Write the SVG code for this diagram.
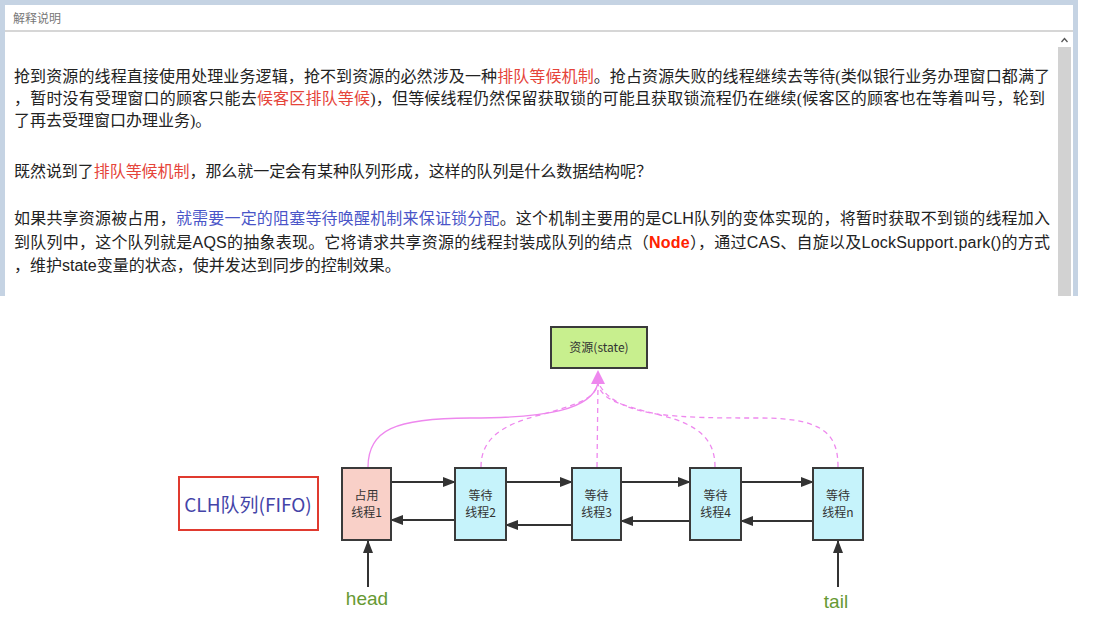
<svg xmlns="http://www.w3.org/2000/svg" width="1094" height="626" viewBox="0 0 1094 626">
<style>
.body{font-family:"Liberation Serif","Noto Sans CJK SC",serif;font-size:16px;fill:#222}
.lat{font-family:"Liberation Sans","Noto Sans CJK SC",sans-serif}
.red{fill:#e5443a}
.blue{fill:#4a55c8}
.node{stroke:#3a3a3a;stroke-width:2}
.nt{font-family:"Noto Sans CJK SC",sans-serif;font-size:12px;fill:#333;text-anchor:middle}
.conn{stroke:#333;stroke-width:2;fill:none}
.pk{stroke:#ee88ee;stroke-width:1.3;fill:none}
.pkd{stroke:#ee88ee;stroke-width:1.3;fill:none;stroke-dasharray:5 4}
.lab{font-family:"Liberation Sans",sans-serif;font-size:19px;fill:#669933;text-anchor:middle}
</style>
<defs>
<marker id="ah" markerUnits="userSpaceOnUse" markerWidth="13" markerHeight="10" refX="12" refY="5" orient="auto">
<path d="M0,0 L13,5 L0,10 z" fill="#333"/>
</marker>
</defs>
<rect width="1094" height="626" fill="#fff"/>
<g id="panel">
<rect x="0" y="0" width="1078" height="296" fill="#c5d3e3"/>
<rect x="5" y="5" width="1068" height="291" fill="#fff"/>
<line x1="5" y1="31" x2="1073" y2="31" stroke="#c8c8c8" stroke-width="1.5"/>
<text x="13" y="23" font-family="Noto Sans CJK SC,sans-serif" font-size="12" fill="#777">解释说明</text>
<rect x="1058" y="47" width="13" height="249" fill="#d2d2d2"/>
<path d="M1061.5,42 L1064.5,38.5 L1067.5,42" stroke="#555" stroke-width="1.3" fill="none"/>
</g>
<g id="text">
<text class="body" x="14" y="82" textLength="1036" lengthAdjust="spacing">抢到资源的线程直接使用处理业务逻辑，抢不到资源的必然涉及一种<tspan class="red">排队等候机制</tspan>。抢占资源失败的线程继续去等待(类似银行业务办理窗口都满了</text>
<text class="body" x="14" y="104" textLength="1031" lengthAdjust="spacing">，暂时没有受理窗口的顾客只能去<tspan class="red">候客区排队等候</tspan>)，但等候线程仍然保留获取锁的可能且获取锁流程仍在继续(候客区的顾客也在等着叫号，轮到</text>
<text class="body" x="14" y="126">了再去受理窗口办理业务)。</text>
<text class="body" x="14" y="177" textLength="638" lengthAdjust="spacing">既然说到了<tspan class="red">排队等候机制</tspan>，那么就一定会有某种队列形成，这样的队列是什么数据结构呢？</text>
<text class="body" x="14" y="224" textLength="1036" lengthAdjust="spacing">如果共享资源被占用，<tspan class="blue">就需要一定的阻塞等待唤醒机制来保证锁分配</tspan>。这个机制主要用的是<tspan class="lat">CLH</tspan>队列的变体实现的，将暂时获取不到锁的线程加入</text>
<text class="body" x="14" y="248" textLength="1036" lengthAdjust="spacing">到队列中，这个队列就是<tspan class="lat">AQS</tspan>的抽象表现。它将请求共享资源的线程封装成队列的结点（<tspan class="lat" font-weight="bold" fill="#ff2200">Node</tspan>），通过<tspan class="lat">CAS</tspan>、自旋以及<tspan class="lat">LockSupport.park()</tspan>的方式</text>
<text class="body" x="14" y="271">，维护<tspan class="lat">state</tspan>变量的状态，使并发达到同步的控制效果。</text>
</g>
<g id="connectors">
<path class="pk" d="M368,467 C368,430 395,418 470,418 C545,418 592,410 598,383"/>
<path class="pkd" d="M481,467 C481,440 500,425 540,415 C575,405 594,400 598,384"/>
<path class="pkd" d="M597,467 L598,384"/>
<path class="pkd" d="M715,467 C715,440 700,425 660,415 C620,405 602,400 598,384"/>
<path class="pkd" d="M838,467 C838,435 825,418 760,418 C680,418 620,418 600,386"/>
<polygon points="598,370 591,384 605,384" fill="#ee88ee"/>
<line class="conn" x1="391" y1="482" x2="455" y2="482" marker-end="url(#ah)"/>
<line class="conn" x1="506" y1="482" x2="572" y2="482" marker-end="url(#ah)"/>
<line class="conn" x1="621" y1="482" x2="690" y2="482" marker-end="url(#ah)"/>
<line class="conn" x1="741" y1="482" x2="813" y2="482" marker-end="url(#ah)"/>
<line class="conn" x1="455" y1="520" x2="391" y2="520" marker-end="url(#ah)"/>
<line class="conn" x1="572" y1="525" x2="506" y2="525" marker-end="url(#ah)"/>
<line class="conn" x1="690" y1="521" x2="621" y2="521" marker-end="url(#ah)"/>
<line class="conn" x1="813" y1="521" x2="741" y2="521" marker-end="url(#ah)"/>
<line class="conn" x1="368" y1="587" x2="368" y2="541" marker-end="url(#ah)"/>
<line class="conn" x1="838" y1="587" x2="838" y2="541" marker-end="url(#ah)"/>
</g>
<g id="state">
<rect class="node" x="551" y="327" width="96" height="41" fill="#c8ef8e"/>
<text class="nt" x="599" y="352" font-size="13">资源(state)</text>
</g>
<g id="clh">
<rect x="179" y="477" width="139" height="53" fill="#fff" stroke="#e03a2f" stroke-width="2"/>
<text x="248" y="512" font-family="Noto Sans CJK SC,sans-serif" font-size="19" fill="#4444a8" text-anchor="middle">CLH队列(FIFO)</text>
</g>
<g id="n1">
<rect class="node" x="342" y="468" width="49" height="72" fill="#f9d0c8"/>
<text class="nt" x="366.5" y="500">占用</text><text class="nt" x="366.5" y="517">线程1</text>
</g>
<g id="n2">
<rect class="node" x="455" y="468" width="51" height="72" fill="#c6f3fb"/>
<text class="nt" x="480.5" y="500">等待</text><text class="nt" x="480.5" y="517">线程2</text>
</g>
<g id="n3">
<rect class="node" x="572" y="468" width="49" height="72" fill="#c6f3fb"/>
<text class="nt" x="596.5" y="500">等待</text><text class="nt" x="596.5" y="517">线程3</text>
</g>
<g id="n4">
<rect class="node" x="690" y="468" width="51" height="72" fill="#c6f3fb"/>
<text class="nt" x="715.5" y="500">等待</text><text class="nt" x="715.5" y="517">线程4</text>
</g>
<g id="nn">
<rect class="node" x="813" y="468" width="50" height="72" fill="#c6f3fb"/>
<text class="nt" x="838" y="500">等待</text><text class="nt" x="838" y="517">线程n</text>
</g>
<g id="head"><text class="lab" x="367" y="605">head</text></g>
<g id="tail"><text class="lab" x="836" y="608">tail</text></g>
</svg>
